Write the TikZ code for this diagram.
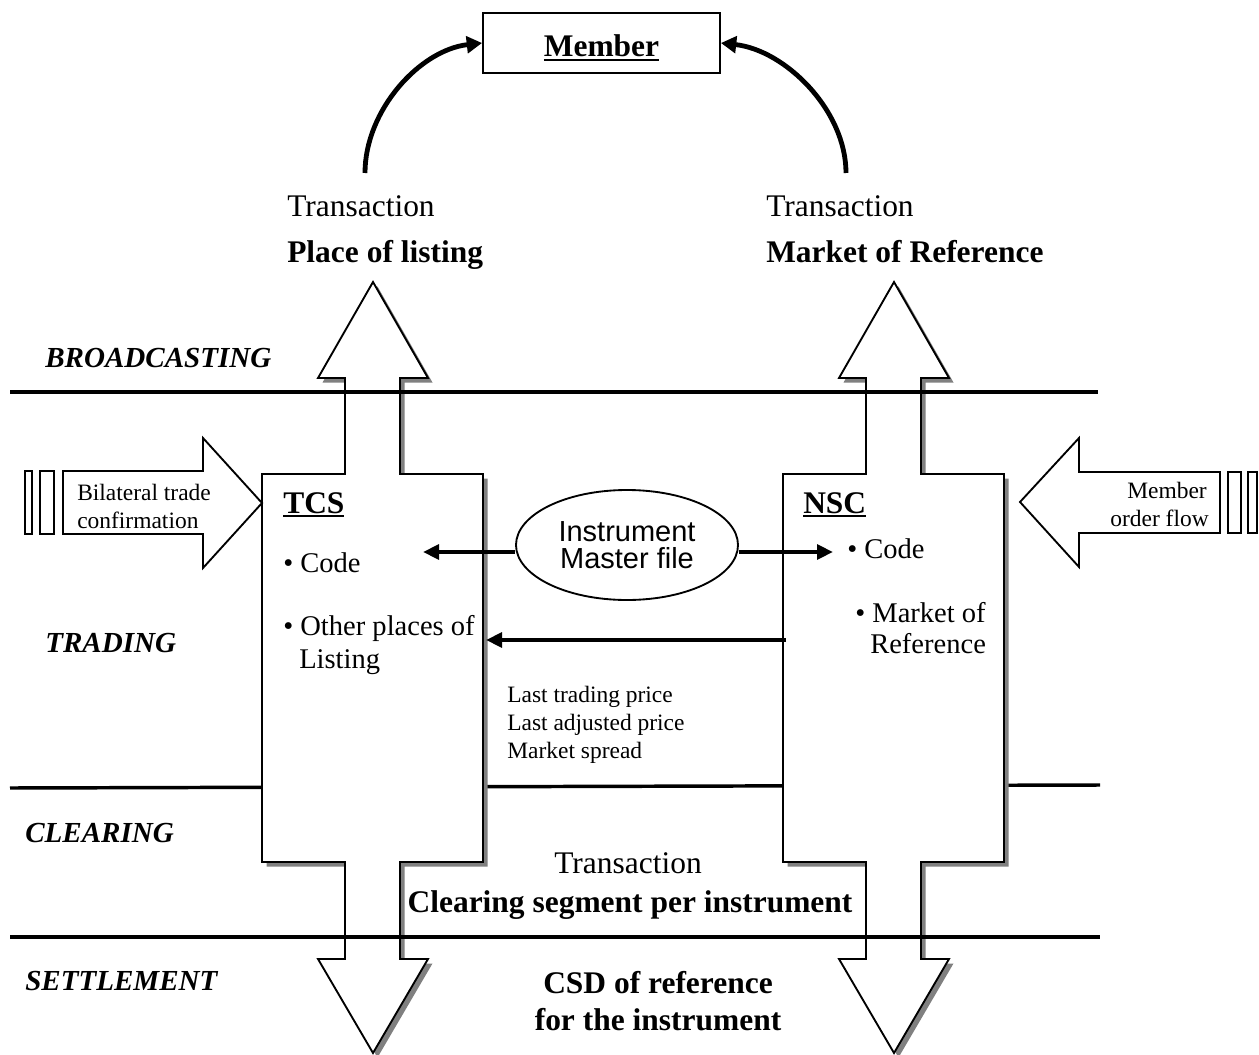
\documentclass[tikz,border=0pt]{standalone}
\usepackage{fontspec}
\setmainfont{Liberation Serif}
\newfontfamily\arialf{Liberation Sans}
\usetikzlibrary{shapes.geometric,arrows.meta}
\definecolor{shadowgray}{RGB}{128,128,128}
\newcommand{\myul}[1]{\setbox0\hbox{#1}\rlap{\rule[-3.2pt]{\wd0}{2pt}}\box0}
\begin{document}
\begin{tikzpicture}[x=0.75pt,y=-0.75pt,
  txt/.style={inner sep=0pt,anchor=base west},
  bigf/.style={font=\fontsize{23.6pt}{28pt}\selectfont},
  bigbf/.style={font=\fontsize{23.6pt}{28pt}\selectfont\bfseries},
  midf/.style={font=\fontsize{21.4pt}{25pt}\selectfont},
  labf/.style={font=\fontsize{21.8pt}{26pt}\selectfont\bfseries\itshape},
  smallf/.style={font=\fontsize{17.6pt}{21pt}\selectfont},
  sansf/.style={font=\arialf\fontsize{21.75pt}{20.25pt}\selectfont},
  hline/.style={line width=2.6pt},
  outl/.style={draw,line width=1.4pt,fill=white,line join=miter},
  thickarr/.style={line width=3pt,-{Triangle[length=12pt,width=11pt]}},
  curvarr/.style={line width=3.6pt,-{Triangle[length=11.5pt,width=12.5pt]}}]
\useasboundingbox (0,0) rectangle (1259,1055);
\clip (0,0) rectangle (1259,1055);

% middle separator (hidden by the boxes)
\draw[hline] (10,788) -- (1100,785);

% TCS and NSC composite shapes
\foreach \s in {0,521}{
\begin{scope}[shift={(\s,0)}]
\fill[shadowgray,shift={(4.5,4.5)}] (373,282) -- (428,378) -- (400,378) -- (400,474) -- (483,474) -- (483,862) -- (400,862) -- (400,959) -- (428,959) -- (373,1053) -- (318,959) -- (345,959) -- (345,862) -- (262,862) -- (262,474) -- (345,474) -- (345,378) -- (318,378) -- cycle;
\draw[outl] (373,282) -- (428,378) -- (400,378) -- (400,474) -- (483,474) -- (483,862) -- (400,862) -- (400,959) -- (428,959) -- (373,1053) -- (318,959) -- (345,959) -- (345,862) -- (262,862) -- (262,474) -- (345,474) -- (345,378) -- (318,378) -- cycle;
\end{scope}}

% top and bottom separators
\draw[hline] (10,392) -- (1098,392);
\draw[hline] (10,937) -- (1100,937);

% left block arrow
\draw[line width=1.4pt,fill=white] (25,471) rectangle (32,534);
\draw[line width=1.4pt,fill=white] (40,471) rectangle (54,534);
\draw[outl] (63,471) -- (203,471) -- (203,438) -- (262,503) -- (203,568) -- (203,534) -- (63,534) -- cycle;
% right block arrow
\draw[line width=1.4pt,fill=white] (1228,472) rectangle (1241,533);
\draw[line width=1.4pt,fill=white] (1248,472) rectangle (1257,533);
\draw[outl] (1220,472) -- (1079,472) -- (1079,438) -- (1020,502) -- (1079,567) -- (1079,533) -- (1220,533) -- cycle;

% Member box and curved arrows
\node[draw,line width=1.4pt,minimum width=177.75pt,minimum height=45pt,inner sep=0pt,
      text height=24pt,text depth=3pt,bigbf] (member) at (601.5,43) {\myul{Member}};
\coordinate (lcs) at (365,173);
\coordinate (rcs) at (846,173);
\draw[curvarr] (lcs) .. controls (365,110) and (420,50) .. (member.west);
\draw[curvarr] (rcs) .. controls (846,110) and (785,50) .. (member.east);

% Instrument master file
\node[draw,ellipse,line width=1.4pt,fill=white,minimum width=166.5pt,minimum height=82.5pt,
      inner sep=0pt,align=center,sansf] (imf) at (627,545) {Instrument\\Master file};
\coordinate (tcscode) at (423,552);
\coordinate (nsccode) at (833,552);
\draw[thickarr] ([yshift=-5.25pt]imf.west) -- (tcscode);
\draw[thickarr] ([yshift=-5.25pt]imf.east) -- (nsccode);
\coordinate (nscL) at (786,640);
\coordinate (tcsR) at (486,640);
\draw[thickarr] (nscL) -- (tcsR);

% top texts
\node[txt,bigf] (tl1) at (287,217) {Transaction};
\node[txt,bigbf] (tl2) at (287,263) {Place of listing};
\node[txt,bigf] (tr1) at (766,217) {Transaction};
\node[txt,bigbf] (tr2) at (766,263) {Market of Reference};

% left labels
\node[txt,labf] (lb1) at (45,368) {BROADCASTING};
\node[txt,labf] (lb2) at (45,652) {TRADING};
\node[txt,labf] (lb3) at (25,842) {CLEARING};
\node[txt,labf] (lb4) at (25,990) {SETTLEMENT};

% block arrow texts
\node[txt,smallf] (ba1) at (77,500) {Bilateral trade};
\node[txt,smallf] (ba2) at (77,528) {confirmation};
\node[txt,smallf,anchor=base east] (ba3) at (1207,498) {Member};
\node[txt,smallf,anchor=base east] (ba4) at (1209,526) {order flow};

% TCS texts
\node[txt,bigbf] (tcs) at (283,513) {\myul{TCS}};
\node[txt,midf] (tcs1) at (283,572) {\textbullet\ Code};
\node[txt,midf] (tcs2) at (283,635) {\textbullet\ Other places of};
\node[txt,midf] (tcs3) at (299,668) {Listing};

% NSC texts
\node[txt,bigbf] (nsc) at (803,513) {\myul{NSC}};
\node[txt,midf] (nsc1) at (847,558) {\textbullet\ Code};
\node[txt,midf] (nsc2) at (855,622) {\textbullet\ Market of};
\node[txt,midf] (nsc3) at (870,653) {Reference};

% prices
\node[txt,smallf] (p1) at (507,702) {Last trading price};
\node[txt,smallf] (p2) at (507,730) {Last adjusted price};
\node[txt,smallf] (p3) at (507,758) {Market spread};

% bottom texts
\node[txt,bigf,anchor=base] (bt1) at (628,873) {Transaction};
\node[txt,bigbf,anchor=base] (bt2) at (630,912) {Clearing segment per instrument};
\node[txt,bigbf,anchor=base] (bt3) at (658,993) {CSD of reference};
\node[txt,bigbf,anchor=base] (bt4) at (658,1030) {for the instrument};
\end{tikzpicture}
\end{document}
